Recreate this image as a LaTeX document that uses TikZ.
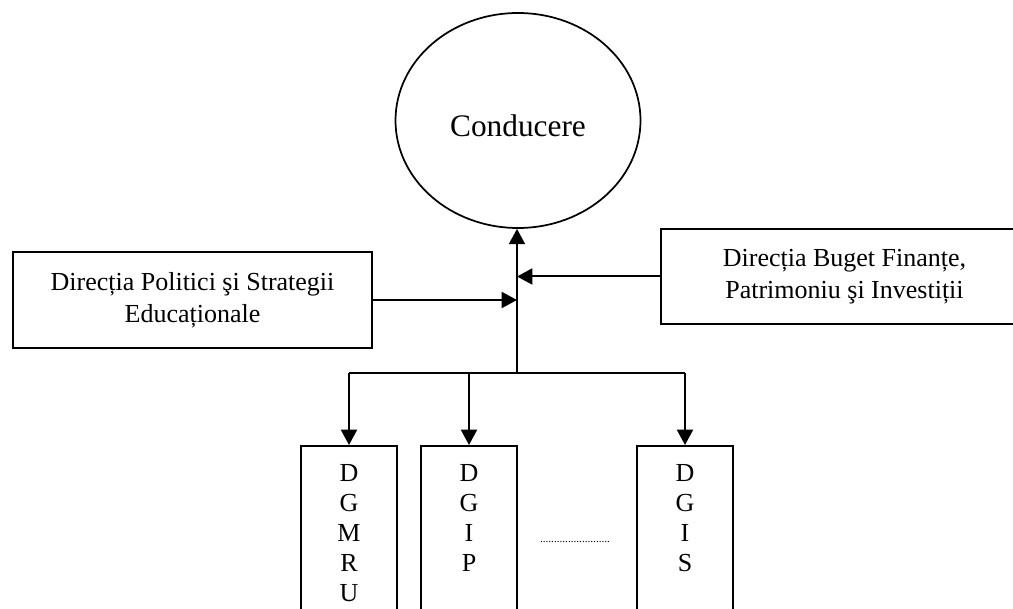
\documentclass[tikz,border=0pt]{standalone}
\usepackage{fontspec}
\setmainfont{Liberation Serif}
\usetikzlibrary{shapes.geometric,arrows.meta,positioning}

\begin{document}
\begin{tikzpicture}[x=0.75pt,y=-0.75pt,line width=1.5pt,
  arr/.style={-{Triangle[length=11.5pt,width=12pt]}},
  sidebox/.style={draw,align=center,inner sep=0pt,font=\fontsize{19.5}{24}\selectfont},
  colbox/.style={draw,anchor=north,minimum width=72pt,minimum height=150pt,inner sep=0pt},
  letters/.style={anchor=north,align=center,inner sep=0pt,font=\fontsize{19.5}{22.6}\selectfont}]
\clip (0,0) rectangle (1013,609);
\node[draw,ellipse,line width=1.3pt,minimum width=183.75pt,minimum height=161.25pt,inner sep=0pt,
  font=\fontsize{23.5}{28}\selectfont,text height=24.75pt,text depth=0pt] (cond) at (518,120.5) {Conducere};
\node[sidebox,minimum width=269.25pt,minimum height=72pt] (dpse) at (192.5,300) {Direcția Politici şi Strategii\\Educaționale};
\node[sidebox,minimum width=275.25pt,minimum height=71.25pt] (dbfpi) at (844.5,276.5) {Direcția Buget Finanțe,\\Patrimoniu şi Investiții};
\coordinate (hub) at (517,373);
\draw[arr] (hub) -- (hub |- cond.south);
\draw[arr] (dpse.east) -- (dpse.east -| hub);
\draw[arr] (dbfpi.west) -- (dbfpi.west -| hub);

\node[colbox] (dgmru) at (349,445) {};
\node[colbox] (dgip) at (469,445) {};
\node[colbox] (dgis) at (685,445) {};
\node[letters] (dgmrut) at ([yshift=-13.5pt]dgmru.north) {D\\G\\M\\R\\U};
\node[letters] (dgipt) at ([yshift=-13.5pt]dgip.north) {D\\G\\I\\P};
\node[letters] (dgist) at ([yshift=-13.5pt]dgis.north) {D\\G\\I\\S};
\node[anchor=base,font=\fontsize{8.4}{10}\selectfont] (gap) at (575,542) {.........................};

\draw (dgmru.north |- hub) -- (dgis.north |- hub);
\foreach \b in {dgmru,dgip,dgis}
  \draw[arr] (\b.north |- hub) -- (\b);
\end{tikzpicture}
\end{document}
